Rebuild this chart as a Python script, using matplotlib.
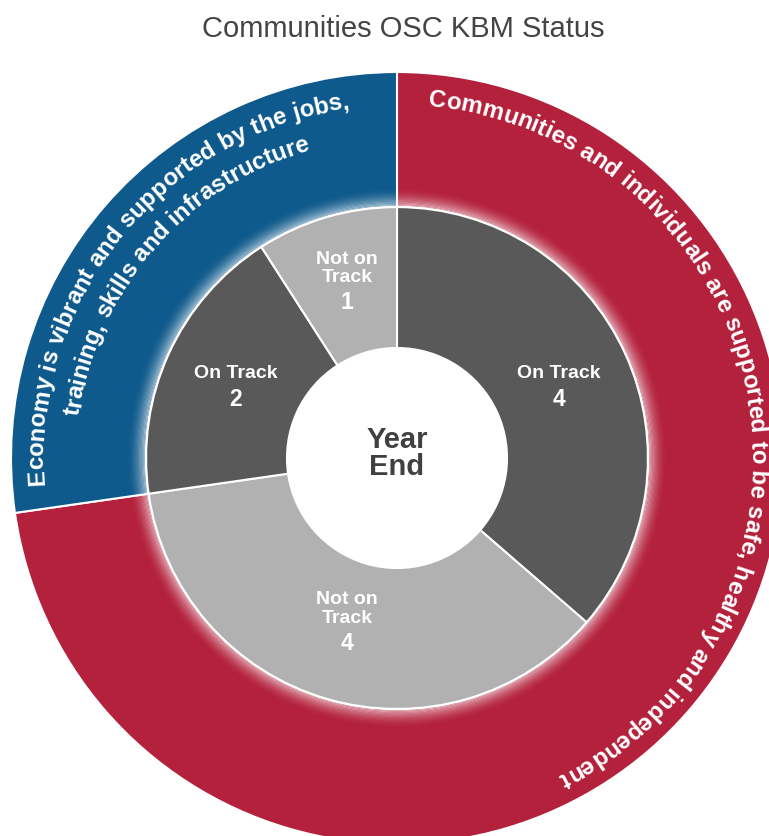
import numpy as np
import matplotlib
matplotlib.use("Agg")
import matplotlib.pyplot as plt
from matplotlib.patches import Wedge
from matplotlib.font_manager import FontProperties

# ---------------- data ----------------
title = "Communities OSC KBM Status"
center_label = "Year\nEnd"
outcome_values = [8, 3]
outcome_lines = [
    ["Communities and individuals are supported to be safe, healthy and independent"],
    ["Economy is vibrant and supported by the jobs,", "training, skills and infrastructure"],
]
status_names = ["On Track", "Not on\nTrack", "On Track", "Not on\nTrack"]
status_values = [4, 4, 2, 1]

# ---------------- style ----------------
RED = "#B4213C"
BLUE = "#0F5A8C"
DARK = "#595959"
LIGHT = "#B1B1B1"
outcome_colors = [RED, BLUE]
status_colors = [DARK, LIGHT, DARK, LIGHT]
FONT = "Liberation Sans"

W, H, DPI = 769, 837, 100
R_OUT = 1.0
R_MID = 0.65
R_HOLE = 0.285
PX = 386.0            # pixels per radius unit
CX, CY = 397.0, 459.0 # centre of the chart in pixels (from top-left)

fig = plt.figure(figsize=(W / DPI, H / DPI), dpi=DPI)
fig.patch.set_facecolor("white")
ax = fig.add_axes([0, 0, 1, 1])

outer, _ = ax.pie(outcome_values, radius=R_OUT, startangle=90, counterclock=False,
                  colors=outcome_colors,
                  wedgeprops=dict(width=R_OUT - R_MID, edgecolor="white", linewidth=1.5))
inner, _ = ax.pie(status_values, radius=R_MID, startangle=90, counterclock=False,
                  colors=status_colors,
                  wedgeprops=dict(width=R_MID - R_HOLE, edgecolor="white", linewidth=1.5))

# soft white glow just outside the inner ring
n_glow = 16
glow_w = 0.05
for k in range(n_glow):
    r0 = R_MID + glow_w * k / n_glow
    a = 0.7 * (1 - k / n_glow) ** 2
    ax.add_patch(Wedge((0, 0), r0 + glow_w / n_glow, 0, 360, width=glow_w / n_glow,
                       facecolor="white", edgecolor="none", alpha=a, zorder=3))

ax.set_xlim(-CX / PX, (W - CX) / PX)
ax.set_ylim(-(H - CY) / PX, CY / PX)
ax.set_aspect("auto")
ax.axis("off")

# inner labels
for w, name, val in zip(inner, status_names, status_values):
    mid = np.radians((w.theta1 + w.theta2) / 2)
    r = 0.46
    x, y = r * np.cos(mid), r * np.sin(mid)
    ax.annotate(name, (x, y), xytext=(0, 2), textcoords="offset points",
                ha="center", va="bottom", color="white", fontsize=14,
                fontweight="bold", family=FONT, linespacing=1.1, zorder=5)
    ax.annotate(str(val), (x, y), xytext=(0, -2), textcoords="offset points",
                ha="center", va="top", color="white", fontsize=16.5,
                fontweight="bold", family=FONT, zorder=5)

ax.text(0, 0.015, center_label, ha="center", va="center", fontsize=21,
        fontweight="bold", family=FONT, color="#404040", linespacing=0.95, zorder=5)

fig.text(403.5 / W, 1 - 29 / H, title, ha="center", va="center", fontsize=21,
         family=FONT, color="#444444")

# curved outer labels
fig.canvas.draw()
renderer = fig.canvas.get_renderer()
fp = FontProperties(family=FONT, weight="bold", size=17.3)
p0 = ax.transData.transform((0, 0))
p1 = ax.transData.transform((1, 0))
scale = p1[0] - p0[0]


def text_width(s):
    w, h, d = renderer.get_text_width_height_descent(s, fp, ismath=False)
    return w


def arc_text(s, r, theta_start=None, theta_center=None):
    bar = text_width("|")
    starts = [text_width(s[:i] + "|") - bar for i in range(len(s) + 1)]
    total = starts[-1]
    span = total / (r * scale)
    if theta_center is not None:
        th0 = np.radians(theta_center) - span / 2
    else:
        th0 = np.radians(theta_start)
    for i, ch in enumerate(s):
        if ch == " ":
            continue
        m = (starts[i] + starts[i + 1]) / 2
        th = th0 + m / (r * scale)
        x, y = r * np.sin(th), r * np.cos(th)
        ax.text(x, y, ch, rotation=-np.degrees(th), rotation_mode="anchor",
                ha="center", va="baseline", fontproperties=fp, color="white",
                zorder=6)


arc_text(outcome_lines[0][0], 0.917, theta_start=5)
arc_text(outcome_lines[1][0], 0.917, theta_center=309)
arc_text(outcome_lines[1][1], 0.832, theta_center=311)

fig.savefig("out.png", dpi=DPI, facecolor="white")
